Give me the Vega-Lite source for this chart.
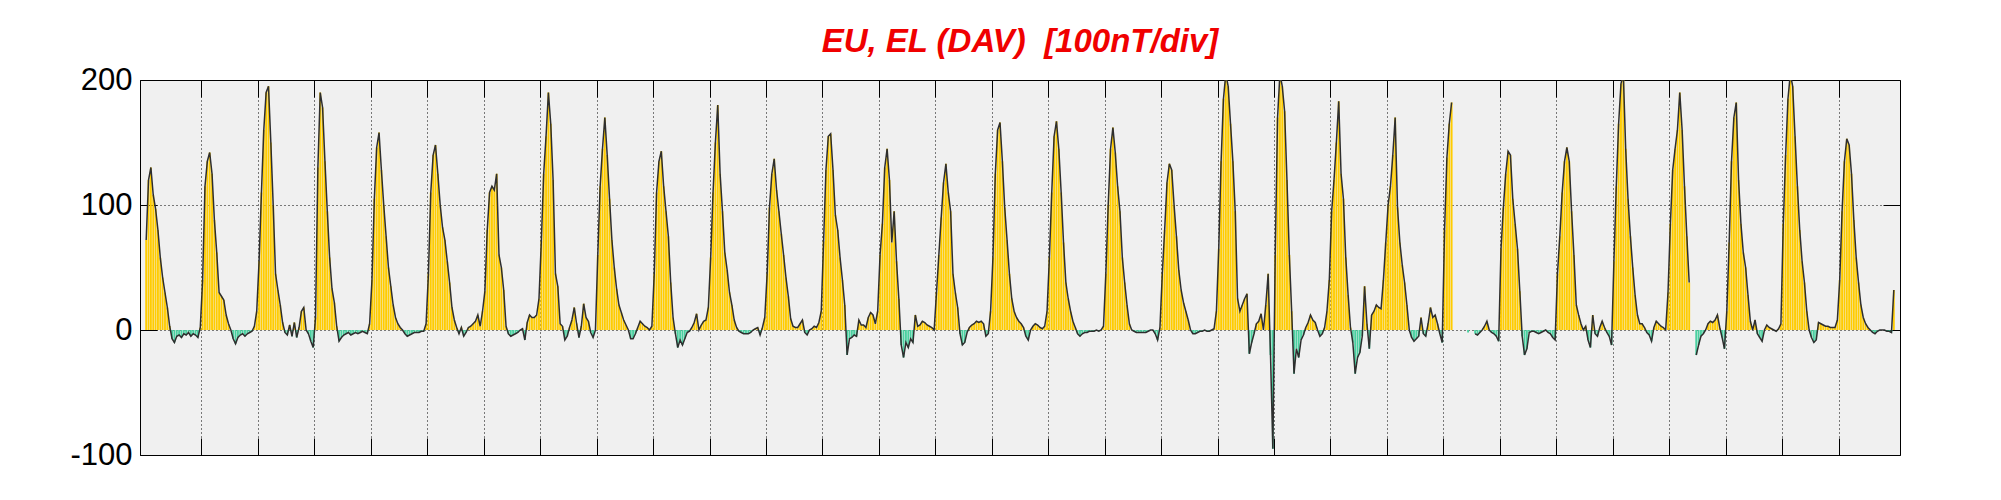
{
"$schema": "https://vega.github.io/schema/vega-lite/v6.json",
"autosize": {"type": "none"},
"padding": {"left": 140, "top": 80, "right": 101, "bottom": 45},
"width": 1760,
"height": 375,
"background": "white",
"title": {"text": "EU, EL (DAV) \u00a0[100nT/div]", "font": "Liberation Sans", "fontSize": 33, "fontWeight": "bold", "fontStyle": "italic", "color": "#f00000", "anchor": "middle", "frame": "group", "offset": 5},
"view": {"fill": "#f0f0f0", "stroke": "#000000", "strokeWidth": 1},
"data": {"values": [
{"t":0,"v":72},{"t":1,"v":120},{"t":2,"v":130},{"t":3,"v":108},{"t":4,"v":97},{"t":5,"v":80},{"t":6,"v":58},{"t":7,"v":42},{"t":8,"v":30},{"t":9,"v":18},{"t":10,"v":3},{"t":11,"v":-7},{"t":12,"v":-10},{"t":13,"v":-5},{"t":14,"v":-4},{"t":15,"v":-6},{"t":16,"v":-3},{"t":17,"v":-4},{"t":18,"v":-2},{"t":19,"v":-5},{"t":20,"v":-3},{"t":21,"v":-4},{"t":22,"v":-6},{"t":23,"v":2},
{"t":24,"v":40},{"t":25,"v":115},{"t":26,"v":135},{"t":27,"v":142},{"t":28,"v":125},{"t":29,"v":88},{"t":30,"v":62},{"t":31,"v":30},{"t":32,"v":27},{"t":33,"v":24},{"t":34,"v":12},{"t":35,"v":5},{"t":36,"v":0},{"t":37,"v":-7},{"t":38,"v":-11},{"t":39,"v":-6},{"t":40,"v":-4},{"t":41,"v":-3},{"t":42,"v":-5},{"t":43,"v":-3},{"t":44,"v":-2},{"t":45,"v":-1},{"t":46,"v":3},{"t":47,"v":15},
{"t":48,"v":55},{"t":49,"v":110},{"t":50,"v":160},{"t":51,"v":190},{"t":52,"v":195},{"t":53,"v":150},{"t":54,"v":100},{"t":55,"v":45},{"t":56,"v":32},{"t":57,"v":20},{"t":58,"v":6},{"t":59,"v":-2},{"t":60,"v":-4},{"t":61,"v":4},{"t":62,"v":-5},{"t":63,"v":6},{"t":64,"v":-6},{"t":65,"v":2},{"t":66,"v":15},{"t":67,"v":18},{"t":68,"v":0},{"t":69,"v":-3},{"t":70,"v":-9},{"t":71,"v":-14},
{"t":72,"v":10},{"t":73,"v":130},{"t":74,"v":190},{"t":75,"v":178},{"t":76,"v":135},{"t":77,"v":95},{"t":78,"v":58},{"t":79,"v":33},{"t":80,"v":22},{"t":81,"v":3},{"t":82,"v":-9},{"t":83,"v":-6},{"t":84,"v":-4},{"t":85,"v":-3},{"t":86,"v":-2},{"t":87,"v":-4},{"t":88,"v":-3},{"t":89,"v":-2},{"t":90,"v":-3},{"t":91,"v":-2},{"t":92,"v":-1},{"t":93,"v":-2},{"t":94,"v":-3},{"t":95,"v":5},
{"t":96,"v":40},{"t":97,"v":105},{"t":98,"v":146},{"t":99,"v":158},{"t":100,"v":128},{"t":101,"v":100},{"t":102,"v":75},{"t":103,"v":50},{"t":104,"v":35},{"t":105,"v":20},{"t":106,"v":10},{"t":107,"v":5},{"t":108,"v":2},{"t":109,"v":0},{"t":110,"v":-3},{"t":111,"v":-5},{"t":112,"v":-4},{"t":113,"v":-3},{"t":114,"v":-2},{"t":115,"v":-2},{"t":116,"v":-2},{"t":117,"v":-1},{"t":118,"v":-1},{"t":119,"v":5},
{"t":120,"v":45},{"t":121,"v":110},{"t":122,"v":140},{"t":123,"v":148},{"t":124,"v":125},{"t":125,"v":100},{"t":126,"v":82},{"t":127,"v":72},{"t":128,"v":55},{"t":129,"v":38},{"t":130,"v":18},{"t":131,"v":8},{"t":132,"v":2},{"t":133,"v":-3},{"t":134,"v":2},{"t":135,"v":-5},{"t":136,"v":-2},{"t":137,"v":2},{"t":138,"v":3},{"t":139,"v":5},{"t":140,"v":7},{"t":141,"v":12},{"t":142,"v":3},{"t":143,"v":15},
{"t":144,"v":31},{"t":145,"v":80},{"t":146,"v":110},{"t":147,"v":115},{"t":148,"v":112},{"t":149,"v":125},{"t":150,"v":60},{"t":151,"v":50},{"t":152,"v":32},{"t":153,"v":3},{"t":154,"v":-3},{"t":155,"v":-5},{"t":156,"v":-4},{"t":157,"v":-3},{"t":158,"v":-2},{"t":159,"v":0},{"t":160,"v":1},{"t":161,"v":-8},{"t":162,"v":6},{"t":163,"v":12},{"t":164,"v":10},{"t":165,"v":10},{"t":166,"v":12},{"t":167,"v":25},
{"t":168,"v":71},{"t":169,"v":125},{"t":170,"v":155},{"t":171,"v":190},{"t":172,"v":165},{"t":173,"v":120},{"t":174,"v":45},{"t":175,"v":35},{"t":176,"v":5},{"t":177,"v":3},{"t":178,"v":-8},{"t":179,"v":-5},{"t":180,"v":2},{"t":181,"v":8},{"t":182,"v":18},{"t":183,"v":5},{"t":184,"v":-6},{"t":185,"v":3},{"t":186,"v":21},{"t":187,"v":10},{"t":188,"v":7},{"t":189,"v":-2},{"t":190,"v":-6},{"t":191,"v":0},
{"t":192,"v":60},{"t":193,"v":115},{"t":194,"v":145},{"t":195,"v":170},{"t":196,"v":140},{"t":197,"v":105},{"t":198,"v":72},{"t":199,"v":50},{"t":200,"v":33},{"t":201,"v":20},{"t":202,"v":14},{"t":203,"v":8},{"t":204,"v":4},{"t":205,"v":0},{"t":206,"v":-7},{"t":207,"v":-7},{"t":208,"v":-3},{"t":209,"v":2},{"t":210,"v":7},{"t":211,"v":5},{"t":212,"v":3},{"t":213,"v":2},{"t":214,"v":0},{"t":215,"v":3},
{"t":216,"v":45},{"t":217,"v":110},{"t":218,"v":135},{"t":219,"v":143},{"t":220,"v":115},{"t":221,"v":95},{"t":222,"v":75},{"t":223,"v":38},{"t":224,"v":10},{"t":225,"v":-3},{"t":226,"v":-14},{"t":227,"v":-8},{"t":228,"v":-12},{"t":229,"v":-7},{"t":230,"v":-2},{"t":231,"v":-1},{"t":232,"v":2},{"t":233,"v":6},{"t":234,"v":13},{"t":235,"v":0},{"t":236,"v":4},{"t":237,"v":7},{"t":238,"v":8},{"t":239,"v":18},
{"t":240,"v":58},{"t":241,"v":110},{"t":242,"v":150},{"t":243,"v":180},{"t":244,"v":125},{"t":245,"v":95},{"t":246,"v":62},{"t":247,"v":48},{"t":248,"v":30},{"t":249,"v":20},{"t":250,"v":8},{"t":251,"v":2},{"t":252,"v":-1},{"t":253,"v":-2},{"t":254,"v":-3},{"t":255,"v":-3},{"t":256,"v":-3},{"t":257,"v":-2},{"t":258,"v":0},{"t":259,"v":1},{"t":260,"v":2},{"t":261,"v":-4},{"t":262,"v":2},{"t":263,"v":10},
{"t":264,"v":45},{"t":265,"v":98},{"t":266,"v":125},{"t":267,"v":137},{"t":268,"v":112},{"t":269,"v":95},{"t":270,"v":77},{"t":271,"v":60},{"t":272,"v":42},{"t":273,"v":27},{"t":274,"v":9},{"t":275,"v":3},{"t":276,"v":2},{"t":277,"v":2},{"t":278,"v":5},{"t":279,"v":8},{"t":280,"v":-2},{"t":281,"v":-4},{"t":282,"v":0},{"t":283,"v":1},{"t":284,"v":3},{"t":285,"v":2},{"t":286,"v":6},{"t":287,"v":15},
{"t":288,"v":71},{"t":289,"v":128},{"t":290,"v":155},{"t":291,"v":157},{"t":292,"v":128},{"t":293,"v":92},{"t":294,"v":80},{"t":295,"v":58},{"t":296,"v":40},{"t":297,"v":20},{"t":298,"v":-20},{"t":299,"v":-7},{"t":300,"v":-6},{"t":301,"v":-4},{"t":302,"v":-5},{"t":303,"v":8},{"t":304,"v":4},{"t":305,"v":4},{"t":306,"v":2},{"t":307,"v":10},{"t":308,"v":14},{"t":309,"v":12},{"t":310,"v":5},{"t":311,"v":15},
{"t":312,"v":60},{"t":313,"v":85},{"t":314,"v":130},{"t":315,"v":145},{"t":316,"v":120},{"t":317,"v":70},{"t":318,"v":95},{"t":319,"v":55},{"t":320,"v":25},{"t":321,"v":-12},{"t":322,"v":-22},{"t":323,"v":-10},{"t":324,"v":-14},{"t":325,"v":-7},{"t":326,"v":-10},{"t":327,"v":12},{"t":328,"v":3},{"t":329,"v":4},{"t":330,"v":7},{"t":331,"v":6},{"t":332,"v":4},{"t":333,"v":3},{"t":334,"v":2},{"t":335,"v":0},
{"t":336,"v":30},{"t":337,"v":60},{"t":338,"v":90},{"t":339,"v":118},{"t":340,"v":133},{"t":341,"v":110},{"t":342,"v":95},{"t":343,"v":45},{"t":344,"v":30},{"t":345,"v":18},{"t":346,"v":-3},{"t":347,"v":-12},{"t":348,"v":-10},{"t":349,"v":-2},{"t":350,"v":2},{"t":351,"v":4},{"t":352,"v":5},{"t":353,"v":7},{"t":354,"v":6},{"t":355,"v":7},{"t":356,"v":5},{"t":357,"v":-5},{"t":358,"v":-3},{"t":359,"v":15},
{"t":360,"v":58},{"t":361,"v":125},{"t":362,"v":160},{"t":363,"v":166},{"t":364,"v":135},{"t":365,"v":98},{"t":366,"v":72},{"t":367,"v":45},{"t":368,"v":25},{"t":369,"v":15},{"t":370,"v":10},{"t":371,"v":7},{"t":372,"v":5},{"t":373,"v":2},{"t":374,"v":-5},{"t":375,"v":-8},{"t":376,"v":0},{"t":377,"v":3},{"t":378,"v":5},{"t":379,"v":4},{"t":380,"v":2},{"t":381,"v":1},{"t":382,"v":3},{"t":383,"v":15},
{"t":384,"v":58},{"t":385,"v":110},{"t":386,"v":155},{"t":387,"v":167},{"t":388,"v":145},{"t":389,"v":110},{"t":390,"v":70},{"t":391,"v":38},{"t":392,"v":25},{"t":393,"v":15},{"t":394,"v":7},{"t":395,"v":2},{"t":396,"v":-3},{"t":397,"v":-5},{"t":398,"v":-3},{"t":399,"v":-2},{"t":400,"v":-2},{"t":401,"v":-1},{"t":402,"v":-1},{"t":403,"v":-1},{"t":404,"v":0},{"t":405,"v":-1},{"t":406,"v":0},{"t":407,"v":3},
{"t":408,"v":45},{"t":409,"v":100},{"t":410,"v":145},{"t":411,"v":162},{"t":412,"v":142},{"t":413,"v":115},{"t":414,"v":95},{"t":415,"v":58},{"t":416,"v":38},{"t":417,"v":20},{"t":418,"v":5},{"t":419,"v":0},{"t":420,"v":-1},{"t":421,"v":-2},{"t":422,"v":-2},{"t":423,"v":-2},{"t":424,"v":-2},{"t":425,"v":-2},{"t":426,"v":-1},{"t":427,"v":0},{"t":428,"v":0},{"t":429,"v":-3},{"t":430,"v":-8},{"t":431,"v":2},
{"t":432,"v":45},{"t":433,"v":80},{"t":434,"v":118},{"t":435,"v":133},{"t":436,"v":128},{"t":437,"v":100},{"t":438,"v":75},{"t":439,"v":48},{"t":440,"v":32},{"t":441,"v":22},{"t":442,"v":15},{"t":443,"v":8},{"t":444,"v":0},{"t":445,"v":-3},{"t":446,"v":-3},{"t":447,"v":-2},{"t":448,"v":-1},{"t":449,"v":-1},{"t":450,"v":0},{"t":451,"v":-1},{"t":452,"v":-1},{"t":453,"v":0},{"t":454,"v":1},{"t":455,"v":15},
{"t":456,"v":65},{"t":457,"v":135},{"t":458,"v":185},{"t":459,"v":205},{"t":460,"v":195},{"t":461,"v":165},{"t":462,"v":135},{"t":463,"v":95},{"t":464,"v":25},{"t":465,"v":15},{"t":466,"v":20},{"t":467,"v":25},{"t":468,"v":29},{"t":469,"v":-19},{"t":470,"v":-10},{"t":471,"v":-3},{"t":472,"v":5},{"t":473,"v":7},{"t":474,"v":13},{"t":475,"v":0},{"t":476,"v":20},{"t":477,"v":45},{"t":478,"v":-20},{"t":479,"v":-95},
{"t":480,"v":60},{"t":481,"v":170},{"t":482,"v":205},{"t":483,"v":195},{"t":484,"v":175},{"t":485,"v":120},{"t":486,"v":60},{"t":487,"v":15},{"t":488,"v":-35},{"t":489,"v":-15},{"t":490,"v":-22},{"t":491,"v":-8},{"t":492,"v":-4},{"t":493,"v":2},{"t":494,"v":6},{"t":495,"v":12},{"t":496,"v":8},{"t":497,"v":6},{"t":498,"v":0},{"t":499,"v":-5},{"t":500,"v":-3},{"t":501,"v":2},{"t":502,"v":15},{"t":503,"v":40},
{"t":504,"v":95},{"t":505,"v":120},{"t":506,"v":150},{"t":507,"v":183},{"t":508,"v":125},{"t":509,"v":105},{"t":510,"v":58},{"t":511,"v":28},{"t":512,"v":2},{"t":513,"v":-10},{"t":514,"v":-35},{"t":515,"v":-22},{"t":516,"v":-18},{"t":517,"v":-5},{"t":518,"v":35},{"t":519,"v":5},{"t":520,"v":-15},{"t":521,"v":12},{"t":522,"v":15},{"t":523,"v":20},{"t":524,"v":18},{"t":525,"v":17},{"t":526,"v":40},{"t":527,"v":70},
{"t":528,"v":100},{"t":529,"v":115},{"t":530,"v":140},{"t":531,"v":170},{"t":532,"v":98},{"t":533,"v":70},{"t":534,"v":52},{"t":535,"v":38},{"t":536,"v":20},{"t":537,"v":0},{"t":538,"v":-6},{"t":539,"v":-9},{"t":540,"v":-7},{"t":541,"v":-5},{"t":542,"v":10},{"t":543,"v":-3},{"t":544,"v":-5},{"t":545,"v":5},{"t":546,"v":18},{"t":547,"v":10},{"t":548,"v":12},{"t":549,"v":5},{"t":550,"v":-3},{"t":551,"v":-10},
{"t":552,"v":80},{"t":553,"v":138},{"t":554,"v":165},{"t":555,"v":182},{"t":556,"v":null},{"t":557,"v":null},{"t":558,"v":null},{"t":559,"v":null},{"t":560,"v":null},{"t":561,"v":null},{"t":562,"v":-2},{"t":563,"v":null},{"t":564,"v":null},{"t":565,"v":-3},{"t":566,"v":-4},{"t":567,"v":-2},{"t":568,"v":0},{"t":569,"v":3},{"t":570,"v":7},{"t":571,"v":0},{"t":572,"v":-2},{"t":573,"v":-3},{"t":574,"v":-5},{"t":575,"v":-9},
{"t":576,"v":65},{"t":577,"v":98},{"t":578,"v":125},{"t":579,"v":143},{"t":580,"v":140},{"t":581,"v":105},{"t":582,"v":85},{"t":583,"v":65},{"t":584,"v":31},{"t":585,"v":-5},{"t":586,"v":-20},{"t":587,"v":-15},{"t":588,"v":-2},{"t":589,"v":-1},{"t":590,"v":-1},{"t":591,"v":-2},{"t":592,"v":-3},{"t":593,"v":-2},{"t":594,"v":-1},{"t":595,"v":0},{"t":596,"v":-2},{"t":597,"v":-3},{"t":598,"v":-6},{"t":599,"v":-8},
{"t":600,"v":45},{"t":601,"v":75},{"t":602,"v":110},{"t":603,"v":135},{"t":604,"v":146},{"t":605,"v":135},{"t":606,"v":95},{"t":607,"v":60},{"t":608,"v":20},{"t":609,"v":12},{"t":610,"v":5},{"t":611,"v":0},{"t":612,"v":3},{"t":613,"v":-8},{"t":614,"v":-14},{"t":615,"v":12},{"t":616,"v":-3},{"t":617,"v":-5},{"t":618,"v":2},{"t":619,"v":7},{"t":620,"v":2},{"t":621,"v":-2},{"t":622,"v":-5},{"t":623,"v":-12},
{"t":624,"v":55},{"t":625,"v":115},{"t":626,"v":165},{"t":627,"v":197},{"t":628,"v":205},{"t":629,"v":145},{"t":630,"v":105},{"t":631,"v":75},{"t":632,"v":50},{"t":633,"v":28},{"t":634,"v":12},{"t":635,"v":5},{"t":636,"v":5},{"t":637,"v":2},{"t":638,"v":-2},{"t":639,"v":-4},{"t":640,"v":-9},{"t":641,"v":2},{"t":642,"v":7},{"t":643,"v":5},{"t":644,"v":3},{"t":645,"v":2},{"t":646,"v":0},{"t":647,"v":30},
{"t":648,"v":85},{"t":649,"v":128},{"t":650,"v":145},{"t":651,"v":160},{"t":652,"v":190},{"t":653,"v":160},{"t":654,"v":115},{"t":655,"v":75},{"t":656,"v":38},{"t":657,"v":null},{"t":658,"v":null},{"t":659,"v":-20},{"t":660,"v":-12},{"t":661,"v":-5},{"t":662,"v":-3},{"t":663,"v":0},{"t":664,"v":5},{"t":665,"v":7},{"t":666,"v":6},{"t":667,"v":8},{"t":668,"v":12},{"t":669,"v":2},{"t":670,"v":-6},{"t":671,"v":-15},
{"t":672,"v":15},{"t":673,"v":70},{"t":674,"v":135},{"t":675,"v":170},{"t":676,"v":182},{"t":677,"v":120},{"t":678,"v":85},{"t":679,"v":62},{"t":680,"v":50},{"t":681,"v":28},{"t":682,"v":7},{"t":683,"v":0},{"t":684,"v":8},{"t":685,"v":-3},{"t":686,"v":-6},{"t":687,"v":-9},{"t":688,"v":0},{"t":689,"v":4},{"t":690,"v":2},{"t":691,"v":1},{"t":692,"v":0},{"t":693,"v":-1},{"t":694,"v":1},{"t":695,"v":5},
{"t":696,"v":85},{"t":697,"v":140},{"t":698,"v":185},{"t":699,"v":205},{"t":700,"v":195},{"t":701,"v":155},{"t":702,"v":115},{"t":703,"v":80},{"t":704,"v":55},{"t":705,"v":38},{"t":706,"v":15},{"t":707,"v":0},{"t":708,"v":-6},{"t":709,"v":-10},{"t":710,"v":-8},{"t":711,"v":6},{"t":712,"v":5},{"t":713,"v":4},{"t":714,"v":3},{"t":715,"v":3},{"t":716,"v":2},{"t":717,"v":2},{"t":718,"v":2},{"t":719,"v":8},
{"t":720,"v":40},{"t":721,"v":95},{"t":722,"v":135},{"t":723,"v":153},{"t":724,"v":148},{"t":725,"v":125},{"t":726,"v":88},{"t":727,"v":58},{"t":728,"v":38},{"t":729,"v":20},{"t":730,"v":10},{"t":731,"v":5},{"t":732,"v":2},{"t":733,"v":0},{"t":734,"v":-2},{"t":735,"v":-3},{"t":736,"v":-1},{"t":737,"v":0},{"t":738,"v":0},{"t":739,"v":0},{"t":740,"v":-1},{"t":741,"v":-1},{"t":742,"v":-2},{"t":743,"v":32}
]},
"layer": [
{"mark": {"type": "bar", "width": 1.9, "clip": true},
 "encoding": {
  "x": {"field": "t", "type": "quantitative", "scale": {"domain": [-0.5, 743.5], "nice": false, "zero": false},
        "axis": {"orient": "bottom", "values": [23.5,47.5,71.5,95.5,119.5,143.5,167.5,191.5,215.5,239.5,263.5,287.5,311.5,335.5,359.5,383.5,407.5,431.5,455.5,479.5,503.5,527.5,551.5,575.5,599.5,623.5,647.5,671.5,695.5,719.5],
                 "labels": false, "title": null, "domain": false, "ticks": true, "tickSize": -17, "tickColor": "#000000", "tickWidth": 1,
                 "grid": true, "gridColor": "#000000", "gridDash": [1, 3], "gridOpacity": 1, "gridWidth": 1}},
  "y": {"field": "v", "type": "quantitative", "scale": {"domain": [-100, 200], "nice": false, "zero": false},
        "axis": {"orient": "left", "values": [-100, 0, 100, 200], "labelExpr": "'' + datum.value", "title": null, "domain": false, "ticks": true, "tickSize": -17, "tickColor": "#000000", "tickWidth": 1,
                 "labelPadding": 25, "labelFontSize": 31, "labelColor": "#000000", "labelFont": "Liberation Sans",
                 "grid": true, "gridColor": "#000000", "gridDash": [1, 3], "gridOpacity": 1, "gridWidth": 1}},
  "color": {"condition": {"test": "datum.v < 0", "value": "#4ad0a0"}, "value": "#ffcc00"}
 }},
{"mark": {"type": "line", "color": "#2e2e2e", "strokeWidth": 1.5, "clip": true, "invalid": "break-paths-filter-domains"},
 "encoding": {
  "x": {"field": "t", "type": "quantitative",
        "axis": {"orient": "top", "values": [23.5,47.5,71.5,95.5,119.5,143.5,167.5,191.5,215.5,239.5,263.5,287.5,311.5,335.5,359.5,383.5,407.5,431.5,455.5,479.5,503.5,527.5,551.5,575.5,599.5,623.5,647.5,671.5,695.5,719.5],
                 "labels": false, "title": null, "domain": false, "ticks": true, "tickSize": -17, "tickColor": "#000000", "tickWidth": 1, "grid": false}},
  "y": {"field": "v", "type": "quantitative",
        "axis": {"orient": "right", "values": [-100, 0, 100, 200], "labels": false, "title": null, "domain": false, "ticks": true, "tickSize": -17, "tickColor": "#000000", "tickWidth": 1, "grid": false}}
 }}
],
"resolve": {"axis": {"x": "independent", "y": "independent"}}
}
